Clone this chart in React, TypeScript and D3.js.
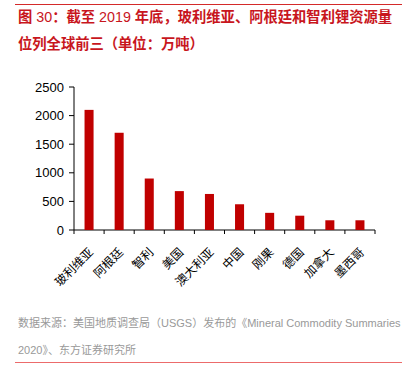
import React from "react";
import * as d3 from "d3";

const categories = ["玻利维亚", "阿根廷", "智利", "美国", "澳大利亚", "中国", "刚果", "德国", "加拿大", "墨西哥"];
const values = [2100, 1700, 900, 680, 630, 450, 300, 250, 170, 170];
const yTicks = [0, 500, 1000, 1500, 2000, 2500];
const titleLines = ["图 30：截至 2019 年底，玻利维亚、阿根廷和智利锂资源量", "位列全球前三（单位：万吨）"];
const sourceLines = ["数据来源：美国地质调查局（USGS）发布的《Mineral Commodity Summaries", "2020》、东方证券研究所"];

export default function App() {
  const W = 417, H = 371;
  const left = 74, right = 375, top = 87, bottom = 230;
  const x = d3.scaleBand<string>().domain(categories).range([left, right]).paddingInner(0.7).paddingOuter(0.35);
  const xb = d3.scaleBand<string>().domain(categories).range([left, right]);
  const y = d3.scaleLinear().domain([0, 2500]).range([bottom, top]);
  const font = "'Liberation Sans', Arial, 'Noto Sans CJK SC', sans-serif";
  const cjk = "'Noto Sans CJK SC', sans-serif";
  const splitRuns = (t: string) => t.split(/([0-9 ]+)/).filter((s) => s.length > 0);
  return (
    <svg width={W} height={H} style={{ position: "absolute", left: 0, top: 0 }}>
      <rect width={W} height={H} fill="#fff" />
      <line x1={15} x2={402} y1={4.5} y2={4.5} stroke="#d42a2a" strokeWidth={1} />
      {titleLines.map((t, i) => (
        <text key={i} x={18} y={22 + i * 27} fill="#c8161d" fontSize={14.3} fontFamily={font} style={{ whiteSpace: "pre" }}>
          {splitRuns(t).map((s, j) => (
            <tspan key={j} fontWeight={/^[0-9 ]+$/.test(s) ? "normal" : "bold"}>{s}</tspan>
          ))}
        </text>
      ))}
      {yTicks.map((t) => (
        <g key={t}>
          <line x1={left - 5} x2={left} y1={y(t)} y2={y(t)} stroke="#000" />
          <text x={64} y={y(t)} dy="0.35em" textAnchor="end" fontSize={13} fontFamily={font} fill="#000">{t}</text>
        </g>
      ))}
      <line x1={left} x2={left} y1={top} y2={bottom} stroke="#000" />
      <line x1={left} x2={right} y1={bottom} y2={bottom} stroke="#000" />
      {categories.map((c, i) => (
        <line key={"t" + i} x1={xb(c)!} x2={xb(c)!} y1={bottom} y2={bottom + 4} stroke="#000" />
      ))}
      <line x1={right} x2={right} y1={bottom} y2={bottom + 4} stroke="#000" />
      {categories.map((c, i) => (
        <rect key={c} x={x(c)!} y={y(values[i])} width={x.bandwidth()} height={bottom - y(values[i])} fill="#c00000" />
      ))}
      {categories.map((c) => {
        const cx = xb(c)! + xb.bandwidth() / 2 + 2;
        const cy = bottom + 20;
        return (
          <text key={"l" + c} x={cx} y={cy} transform={`rotate(-45 ${cx} ${cy})`} textAnchor="end" dy="0.35em" fontSize={12} fontFamily={cjk} fill="#000">{c}</text>
        );
      })}
      {sourceLines.map((t, i) => (
        <text key={"s" + i} x={18} y={327 + i * 27} fill="#999" fontSize={11} fontFamily={font}>{t}</text>
      ))}
      <line x1={15} x2={402} y1={362.5} y2={362.5} stroke="#ec6b6b" strokeWidth={1} />
    </svg>
  );
}
